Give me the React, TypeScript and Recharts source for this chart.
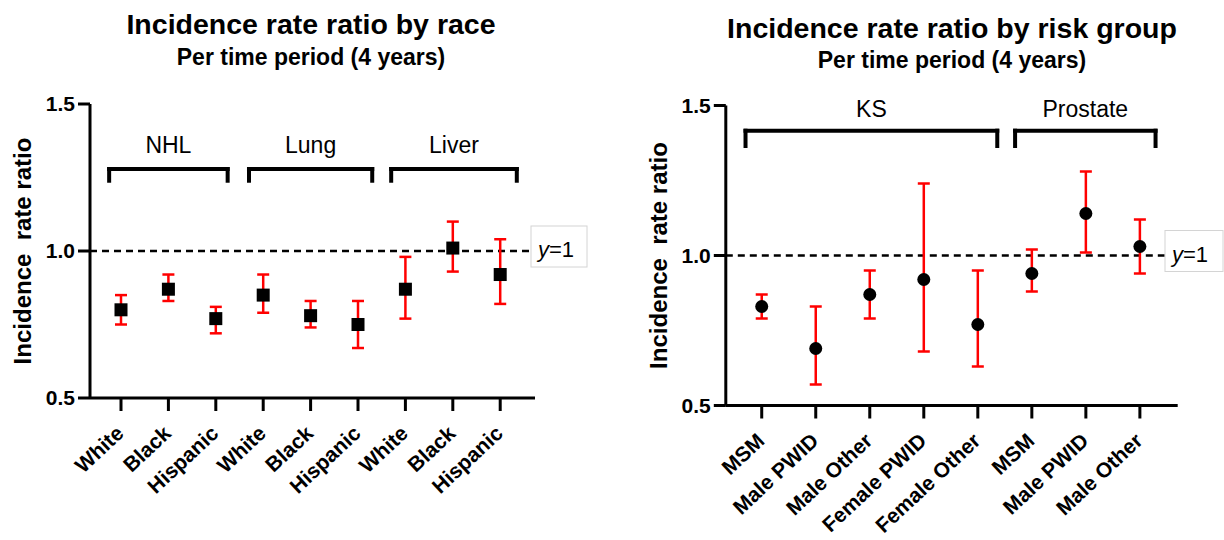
import React from "react";
import { ScatterChart, Scatter, XAxis, YAxis, ErrorBar, ReferenceLine } from "recharts";

const FONT = "'Liberation Sans', Arial, Helvetica, sans-serif";

// left panel: by race
const raceLabels = ["White", "Black", "Hispanic", "White", "Black", "Hispanic", "White", "Black", "Hispanic"];
const raceIrr = [0.8, 0.87, 0.77, 0.85, 0.78, 0.75, 0.87, 1.01, 0.92];
const raceLow = [0.75, 0.83, 0.72, 0.79, 0.74, 0.67, 0.77, 0.93, 0.82];
const raceHigh = [0.85, 0.92, 0.81, 0.92, 0.83, 0.83, 0.98, 1.1, 1.04];
const cancerGroups = ["NHL", "Lung", "Liver"];
const cancerSpans = [[-0.25, 2.25], [2.7, 5.3], [5.7, 8.35]];

// right panel: by risk group
const riskLabels = ["MSM", "Male PWID", "Male Other", "Female PWID", "Female Other", "MSM", "Male PWID", "Male Other"];
const riskIrr = [0.83, 0.69, 0.87, 0.92, 0.77, 0.94, 1.14, 1.03];
const riskLow = [0.79, 0.57, 0.79, 0.68, 0.63, 0.88, 1.01, 0.94];
const riskHigh = [0.87, 0.83, 0.95, 1.24, 0.95, 1.02, 1.28, 1.12];
const riskGroups = ["KS", "Prostate"];
const riskSpans = [[-0.3, 4.36], [4.69, 7.29]];

const yTicks = [0.5, 1.0, 1.5];

function toPoints(irr: number[], low: number[], high: number[]) {
  return irr.map((v, i) => ({ x: i, y: v, err: [v - low[i], high[i] - v] }));
}

const SquareDot = (p: any) => <rect x={p.cx - 6.5} y={p.cy - 6.5} width={13} height={13} fill="#000" />;
const RoundDot = (p: any) => <circle cx={p.cx} cy={p.cy} r={6.5} fill="#000" />;

const GroupText = (p: any) => (
  <text x={p.cx} y={p.cy} textAnchor="middle" fontSize={23} fontFamily={FONT} fill="#000">
    {p.payload?.name ?? p.name}
  </text>
);

const RefBox = (props: any) => {
  const { viewBox, dx, w } = props;
  const left = viewBox.x + viewBox.width + dx;
  const cy = viewBox.y;
  return (
    <g>
      <rect x={left} y={cy - 25} width={w} height={41} fill="#fff" stroke="#d4d4d4" strokeWidth={1} />
      <text x={left + 7} y={cy + 6} fontSize={22} fontFamily={FONT} fill="#000">
        <tspan fontStyle="italic">y</tspan>=1
      </text>
    </g>
  );
};

const YLabel = (props: any) => {
  const { viewBox } = props;
  const x = viewBox.x + 1;
  const y = viewBox.y + viewBox.height / 2;
  return (
    <text
      transform={`translate(${x},${y}) rotate(-90)`}
      textAnchor="middle"
      fontSize={24}
      fontWeight="bold"
      fontFamily={FONT}
      fill="#000"
      style={{ whiteSpace: "pre" }}
    >
      {"Incidence  rate ratio"}
    </text>
  );
};

interface PanelProps {
  labels: string[];
  irr: number[];
  low: number[];
  high: number[];
  groups: string[];
  spans: number[][];
  bracketY: number;
  footY: number;
  groupY: number;
  xDomain: [number, number];
  margin: { top: number; right: number; left: number; bottom: number };
  xAxisHeight: number;
  round?: boolean;
  boxDx: number;
  boxW: number;
}

function Panel(props: PanelProps) {
  const { labels, irr, low, high, groups, spans, bracketY, footY, groupY, xDomain, margin, xAxisHeight, round, boxDx, boxW } = props;
  const points = toPoints(irr, low, high);
  const groupPoints = groups.map((g, i) => ({ x: (spans[i][0] + spans[i][1]) / 2, y: groupY, name: g }));

  const XTick = (p: any) => (
    <text
      transform={`translate(${p.x + 4},${p.y + 24}) rotate(-43)`}
      textAnchor="end"
      fontSize={21}
      fontWeight="bold"
      fontFamily={FONT}
      fill="#000"
    >
      {labels[p.payload.value]}
    </text>
  );

  return (
    <ScatterChart width={612} height={540} margin={margin}>
      <XAxis
        type="number"
        dataKey="x"
        domain={xDomain}
        ticks={labels.map((_, i) => i)}
        interval={0}
        height={xAxisHeight}
        tick={<XTick />}
        tickSize={13}
        tickMargin={0}
        axisLine={{ stroke: "#000", strokeWidth: 3 }}
        tickLine={{ stroke: "#000", strokeWidth: 3 }}
      />
      <YAxis
        type="number"
        dataKey="y"
        domain={[0.5, 1.5]}
        ticks={yTicks}
        width={60}
        tickSize={12}
        tickMargin={3}
        tickFormatter={(v: number) => v.toFixed(1)}
        tick={{ fontSize: 21, fontWeight: "bold", fill: "#000", fontFamily: FONT }}
        axisLine={{ stroke: "#000", strokeWidth: 3 }}
        tickLine={{ stroke: "#000", strokeWidth: 3 }}
        label={<YLabel />}
      />
      <ReferenceLine
        y={1}
        stroke="#000"
        strokeWidth={2.5}
        strokeDasharray="7 5"
        label={<RefBox dx={boxDx} w={boxW} />}
      />
      {spans.map((s, i) => (
        <ReferenceLine
          key={"h" + i}
          segment={[{ x: s[0], y: bracketY }, { x: s[1], y: bracketY }]}
          stroke="#000"
          strokeWidth={4}
          strokeLinecap="square"
        />
      ))}
      {spans.map((s, i) => (
        <ReferenceLine
          key={"l" + i}
          segment={[{ x: s[0], y: bracketY }, { x: s[0], y: footY }]}
          stroke="#000"
          strokeWidth={4}
          strokeLinecap="square"
        />
      ))}
      {spans.map((s, i) => (
        <ReferenceLine
          key={"r" + i}
          segment={[{ x: s[1], y: bracketY }, { x: s[1], y: footY }]}
          stroke="#000"
          strokeWidth={4}
          strokeLinecap="square"
        />
      ))}
      <Scatter data={groupPoints} shape={<GroupText />} isAnimationActive={false} />
      <Scatter data={points} shape={round ? <RoundDot /> : <SquareDot />} isAnimationActive={false}>
        <ErrorBar dataKey="err" direction="y" width={6} stroke="#ff0000" strokeWidth={2.5} />
      </Scatter>
    </ScatterChart>
  );
}

export default function App() {
  return (
    <div style={{ position: "absolute", left: 0, top: 0, width: 1224, height: 540, background: "#fff", fontFamily: FONT }}>
      <div style={{ display: "flex" }}>
        <Panel
          labels={raceLabels}
          irr={raceIrr}
          low={raceLow}
          high={raceHigh}
          groups={cancerGroups}
          spans={cancerSpans}
          bracketY={1.279}
          footY={1.239}
          groupY={1.333}
          xDomain={[-0.654, 8.734]}
          margin={{ top: 104, right: 77, left: 30, bottom: 0 }}
          xAxisHeight={142}
          boxDx={-4}
          boxW={56}
        />
        <Panel
          labels={riskLabels}
          irr={riskIrr}
          low={riskLow}
          high={riskHigh}
          groups={riskGroups}
          spans={riskSpans}
          bracketY={1.416}
          footY={1.365}
          groupY={1.462}
          xDomain={[-0.665, 7.7]}
          margin={{ top: 105.5, right: 46.3, left: 53.8, bottom: 0 }}
          xAxisHeight={134.5}
          round
          boxDx={-12.7}
          boxW={58}
        />
      </div>
      <svg width={1224} height={540} style={{ position: "absolute", left: 0, top: 0, pointerEvents: "none" }}>
        <text x={311} y={34} textAnchor="middle" fontSize={28.5} fontWeight="bold" fontFamily={FONT} fill="#000">
          Incidence rate ratio by race
        </text>
        <text x={311} y={65} textAnchor="middle" fontSize={23} fontWeight="bold" fontFamily={FONT} fill="#000">
          Per time period (4 years)
        </text>
        <text x={952} y={38} textAnchor="middle" fontSize={28.5} fontWeight="bold" fontFamily={FONT} fill="#000">
          Incidence rate ratio by risk group
        </text>
        <text x={952} y={68} textAnchor="middle" fontSize={23} fontWeight="bold" fontFamily={FONT} fill="#000">
          Per time period (4 years)
        </text>
      </svg>
    </div>
  );
}
